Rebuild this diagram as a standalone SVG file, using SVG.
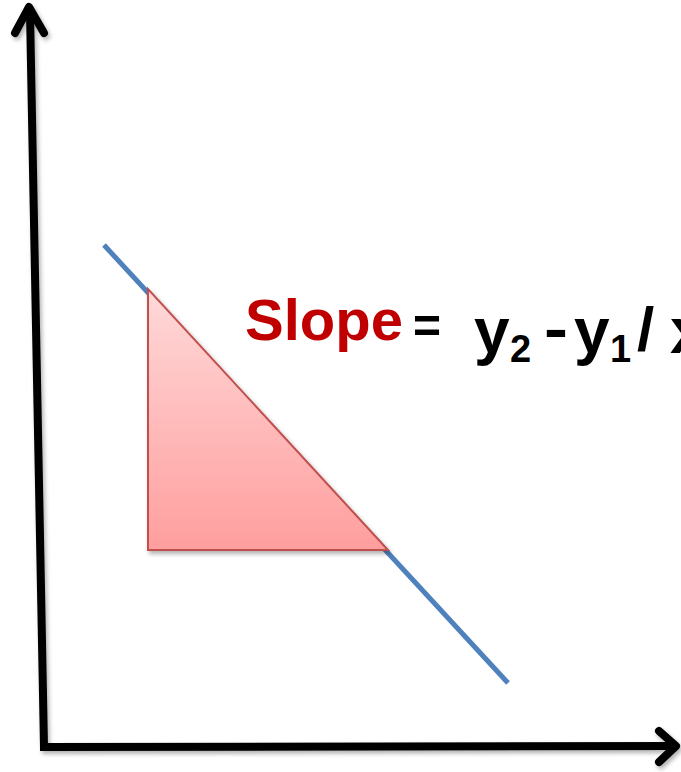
<svg xmlns="http://www.w3.org/2000/svg" width="681" height="772" viewBox="0 0 681 772">
  <defs>
    <linearGradient id="triFill" x1="0" y1="0" x2="0" y2="1">
      <stop offset="0" stop-color="#ffd9d9"/>
      <stop offset="1" stop-color="#ff9e9e"/>
    </linearGradient>
    <filter id="shadow" x="-10%" y="-10%" width="130%" height="130%">
      <feDropShadow dx="2" dy="3" stdDeviation="2" flood-color="#000" flood-opacity="0.3"/>
    </filter>
  </defs>
  <style>
    .axis { fill: none; stroke: #000; stroke-width: 8; }
    .head { fill: none; stroke: #000; stroke-width: 8; stroke-linecap: round; stroke-linejoin: round; }
    .eq { font-family: "Liberation Sans", Arial, sans-serif; font-weight: bold; fill: #000; }
  </style>
  <rect width="681" height="772" fill="#fff"/>
  <g id="connectors" filter="url(#shadow)">
    <path class="axis" d="M44,747 L30,12"/>
    <polyline class="head" points="15,33 29,7 44,33"/>
    <path class="axis" d="M40,747 L674,746"/>
    <polyline class="head" points="659,731 676,746 659,762"/>
  </g>
  <g id="slope-line">
    <line x1="104" y1="245" x2="508" y2="683" stroke="#4f81bd" stroke-width="5"/>
  </g>
  <g id="triangle" filter="url(#shadow)">
    <polygon points="148,289 148,550 388,550" fill="url(#triFill)" stroke="#c0504d" stroke-width="2"/>
  </g>
  <g id="formula">
    <text x="245" y="340" font-family="Liberation Sans, Arial, sans-serif" font-weight="bold" font-size="57" fill="#c00000" textLength="158" lengthAdjust="spacingAndGlyphs">Slope</text>
    <text class="eq" x="413" y="343" font-size="50" textLength="28" lengthAdjust="spacingAndGlyphs">=</text>
    <text class="eq" x="474" y="353" font-size="64">y</text>
    <text class="eq" x="510" y="362" font-size="38">2</text>
    <text class="eq" x="544" y="349" font-size="60" textLength="24" lengthAdjust="spacingAndGlyphs">-</text>
    <text class="eq" x="574" y="353" font-size="64">y</text>
    <text class="eq" x="610" y="362" font-size="38">1</text>
    <text class="eq" x="637" y="350" font-size="62">/</text>
    <text class="eq" x="670" y="353" font-size="64">x</text>
  </g>
</svg>
